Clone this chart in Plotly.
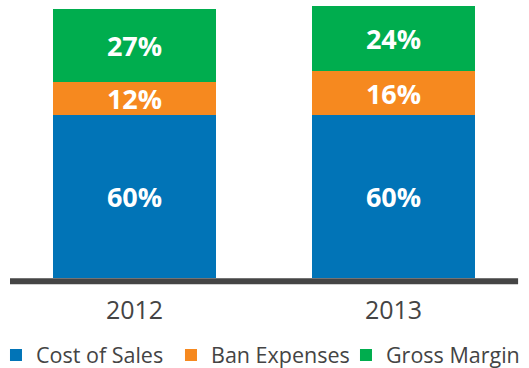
import plotly.graph_objects as go

# Cost breakdown as share of revenue, per year
years = ["2012", "2013"]
cost_of_sales = [60, 60]
ban_expenses = [12, 16]
gross_margin = [27, 24]

series = [
    ("Cost of Sales", cost_of_sales, "#0174B7"),
    ("Ban Expenses", ban_expenses, "#F6891F"),
    ("Gross Margin", gross_margin, "#00AD4E"),
]

fig = go.Figure()
for name, values, color in series:
    fig.add_trace(go.Bar(
        name=name,
        x=years,
        y=values,
        marker=dict(color=color, line=dict(width=0)),
        width=0.629,
        text=[f"{v}%" for v in values],
        textposition="inside",
        insidetextanchor="middle",
        textangle=0,
        constraintext="none",
        textfont=dict(family="Open Sans", size=27, color="white", weight="bold"),
        hoverinfo="skip",
    ))

# dark baseline under the bars, stopping short of the right edge
fig.add_shape(
    type="line",
    xref="paper", yref="paper",
    x0=0, x1=0.979, y0=-0.0115, y1=-0.0115,
    line=dict(color="#454545", width=6),
    layer="below",
)

fig.update_layout(
    barmode="stack",
    width=529,
    height=368,
    margin=dict(l=10, r=0, t=0, b=90, autoexpand=False),
    paper_bgcolor="white",
    plot_bgcolor="white",
    showlegend=True,
    legend=dict(
        orientation="h",
        x=-0.027, xanchor="left",
        y=-0.277, yanchor="middle",
        font=dict(family="Open Sans", size=21.5, color="#444444"),
        entrywidth=130,
        traceorder="normal",
    ),
    xaxis=dict(
        type="category",
        range=[-0.4807, 1.5232],
        showline=False,
        ticks="",
        ticklabelstandoff=15,
        showgrid=False,
        zeroline=False,
        tickfont=dict(family="Open Sans", size=25, color="#444444"),
    ),
    yaxis=dict(
        range=[0, 102.3],
        visible=False,
        showgrid=False,
        zeroline=False,
    ),
)

fig.write_html("out.html")
